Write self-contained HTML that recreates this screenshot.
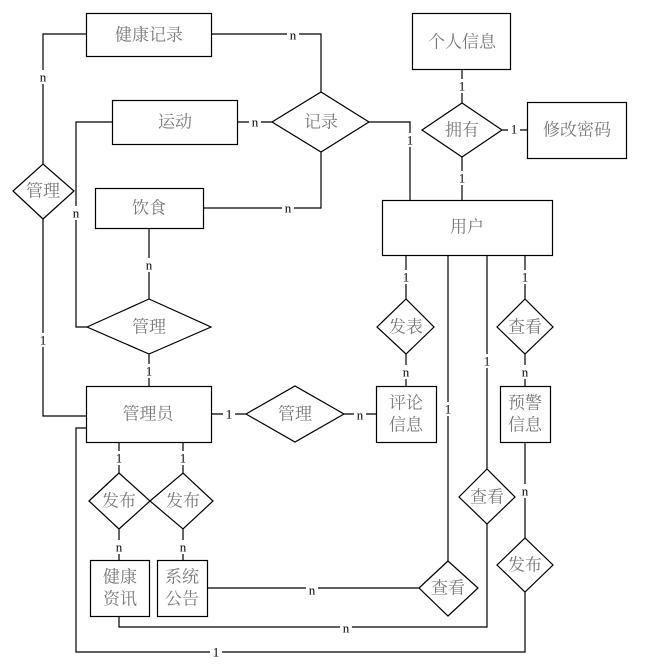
<!DOCTYPE html>
<html><head><meta charset="utf-8"><style>
html,body{margin:0;padding:0;background:#fff;}
svg{display:block;}
.n{font-family:"Liberation Serif","Noto Serif CJK SC","Noto Sans CJK SC",serif;font-size:17px;fill:#777;text-anchor:middle;dominant-baseline:central;}
.l{font-family:"Liberation Serif",serif;font-size:13px;fill:#000;text-anchor:middle;dominant-baseline:central;}
</style></head><body>
<svg width="645" height="670" viewBox="0 0 645 670" xmlns="http://www.w3.org/2000/svg">
<g fill="none" stroke="#000" stroke-width="1.2">
<polyline points="86,34 43,34 43,164"/>
<polyline points="43,219 43,416 86,416"/>
<polyline points="211,34 321,34 321,92"/>
<polyline points="112,122 76,122 76,327 87,327"/>
<line x1="237" y1="122" x2="272" y2="122"/>
<polyline points="369,122 410,122 410,200"/>
<polyline points="321,152 321,208 203,208"/>
<line x1="149" y1="228" x2="149" y2="299"/>
<line x1="149" y1="354" x2="149" y2="386"/>
<line x1="462" y1="69" x2="462" y2="103"/>
<line x1="462" y1="157" x2="462" y2="200"/>
<line x1="502" y1="130" x2="527" y2="130"/>
<line x1="406" y1="255" x2="406" y2="299"/>
<line x1="406" y1="354" x2="406" y2="386"/>
<line x1="525" y1="255" x2="525" y2="299"/>
<line x1="525" y1="354" x2="525" y2="386"/>
<line x1="211" y1="414" x2="246" y2="414"/>
<line x1="344" y1="414" x2="376" y2="414"/>
<polyline points="448,255 448,561"/>
<polyline points="419,588 207,588"/>
<polyline points="487,255 487,469"/>
<polyline points="487,524 487,627 119,627 119,616"/>
<polyline points="525,442 525,538"/>
<polyline points="525,592 525,652 76,652 76,428 86,428"/>
<line x1="119" y1="442" x2="119" y2="473"/>
<line x1="183" y1="442" x2="183" y2="473"/>
<line x1="119" y1="529" x2="119" y2="560"/>
<line x1="183" y1="529" x2="183" y2="560"/>
</g>
<g fill="#fff" stroke="#000" stroke-width="1.2">
<rect x="86.5" y="13.5" width="125" height="43"/>
<rect x="412.5" y="13.5" width="98" height="56"/>
<rect x="112.5" y="100.5" width="125" height="44"/>
<rect x="527.5" y="102.5" width="99" height="56"/>
<rect x="95.5" y="188.5" width="108" height="40"/>
<rect x="382.5" y="200.5" width="170" height="55"/>
<rect x="86.5" y="386.5" width="125" height="56"/>
<rect x="376.5" y="386.5" width="60" height="56"/>
<rect x="500.5" y="386.5" width="50" height="56"/>
<rect x="90.5" y="560.5" width="59" height="56"/>
<rect x="157.5" y="560.5" width="50" height="56"/>
<polygon points="272,122 321,92 369,122 321,152"/>
<polygon points="422,130 462,103 502,130 462,157"/>
<polygon points="13,191 43,164 74,191 43,219"/>
<polygon points="87,327 149,299 211,327 149,354"/>
<polygon points="377,327 406,299 434,327 406,354"/>
<polygon points="497,327 525,299 553,327 525,354"/>
<polygon points="246,414 295,386 344,414 295,442"/>
<polygon points="89,501 119,473 150,501 119,529"/>
<polygon points="150,501 183,473 213,501 183,529"/>
<polygon points="459,497 487,469 515,497 487,524"/>
<polygon points="419,588 448,561 478,588 448,616"/>
<polygon points="497,565 525,538 553,565 525,592"/>
</g>
<g class="n">
<text x="149" y="35">健康记录</text>
<text x="462" y="42">个人信息</text>
<text x="175" y="122">运动</text>
<text x="321" y="122">记录</text>
<text x="462" y="130">拥有</text>
<text x="577" y="130">修改密码</text>
<text x="43" y="191">管理</text>
<text x="149" y="208">饮食</text>
<text x="467" y="227">用户</text>
<text x="149" y="327">管理</text>
<text x="406" y="327">发表</text>
<text x="525" y="327">查看</text>
<text x="148" y="414">管理员</text>
<text x="295" y="414">管理</text>
<text x="406" y="403">评论</text><text x="406" y="425">信息</text>
<text x="525" y="403">预警</text><text x="525" y="425">信息</text>
<text x="119" y="501">发布</text>
<text x="183" y="501">发布</text>
<text x="487" y="497">查看</text>
<text x="448" y="588">查看</text>
<text x="525" y="565">发布</text>
<text x="120" y="577">健康</text><text x="120" y="599">资讯</text>
<text x="182" y="577">系统</text><text x="182" y="599">公告</text>
</g>
<g class="l">
<rect x="37" y="70" width="12" height="14" fill="#fff"/><text x="43" y="77">n</text>
<rect x="287" y="28" width="12" height="14" fill="#fff"/><text x="293" y="35">n</text>
<rect x="70" y="206" width="12" height="14" fill="#fff"/><text x="76" y="213">n</text>
<rect x="249" y="115" width="12" height="14" fill="#fff"/><text x="255" y="122">n</text>
<rect x="404" y="133" width="12" height="14" fill="#fff"/><text x="410" y="140">1</text>
<rect x="282" y="201" width="12" height="14" fill="#fff"/><text x="288" y="208">n</text>
<rect x="143" y="258" width="12" height="14" fill="#fff"/><text x="149" y="265">n</text>
<rect x="143" y="364" width="12" height="14" fill="#fff"/><text x="149" y="371">1</text>
<rect x="37" y="333" width="12" height="14" fill="#fff"/><text x="43" y="340">1</text>
<rect x="456" y="79" width="12" height="14" fill="#fff"/><text x="462" y="86">1</text>
<rect x="456" y="171" width="12" height="14" fill="#fff"/><text x="462" y="178">1</text>
<rect x="508" y="123" width="12" height="14" fill="#fff"/><text x="514" y="129">1</text>
<rect x="400" y="270" width="12" height="14" fill="#fff"/><text x="406" y="277">1</text>
<rect x="400" y="365" width="12" height="14" fill="#fff"/><text x="406" y="372">n</text>
<rect x="519" y="270" width="12" height="14" fill="#fff"/><text x="525" y="277">1</text>
<rect x="519" y="365" width="12" height="14" fill="#fff"/><text x="525" y="372">n</text>
<rect x="223" y="407" width="12" height="14" fill="#fff"/><text x="229" y="414">1</text>
<rect x="354" y="408" width="12" height="14" fill="#fff"/><text x="360" y="415">n</text>
<rect x="481" y="354" width="12" height="14" fill="#fff"/><text x="487" y="361">1</text>
<rect x="442" y="402" width="12" height="14" fill="#fff"/><text x="448" y="409">1</text>
<rect x="519" y="484" width="12" height="14" fill="#fff"/><text x="525" y="491">n</text>
<rect x="113" y="451" width="12" height="14" fill="#fff"/><text x="119" y="458">1</text>
<rect x="177" y="451" width="12" height="14" fill="#fff"/><text x="183" y="458">1</text>
<rect x="113" y="540" width="12" height="14" fill="#fff"/><text x="119" y="547">n</text>
<rect x="177" y="540" width="12" height="14" fill="#fff"/><text x="183" y="547">n</text>
<rect x="306" y="583" width="12" height="14" fill="#fff"/><text x="312" y="590">n</text>
<rect x="340" y="621" width="12" height="14" fill="#fff"/><text x="346" y="628">n</text>
<rect x="210" y="645" width="12" height="14" fill="#fff"/><text x="216" y="652">1</text>
</g>
</svg>
</body></html>
